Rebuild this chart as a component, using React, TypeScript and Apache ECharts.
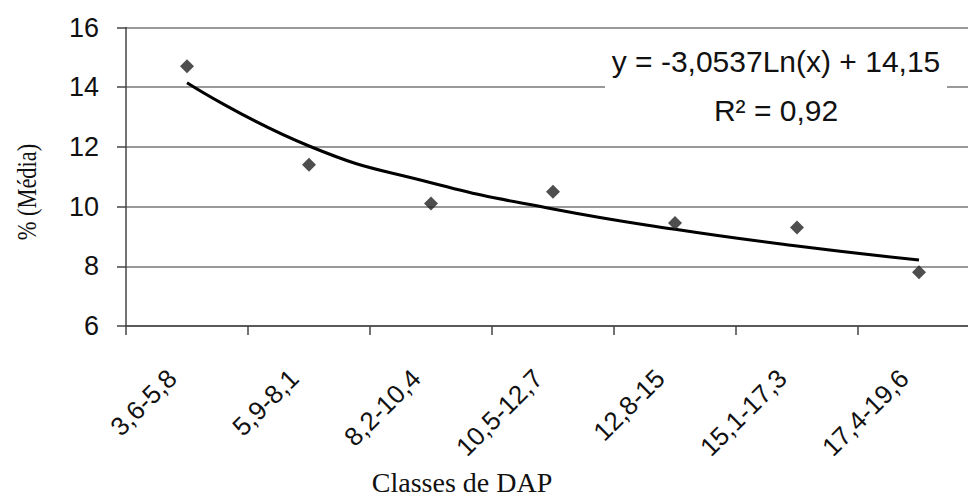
import React, { useEffect, useRef } from "react";
import * as echarts from "echarts";

const categories = ["3,6-5,8", "5,9-8,1", "8,2-10,4", "10,5-12,7", "12,8-15", "15,1-17,3", "17,4-19,6"];
const observed = [14.7, 11.4, 10.1, 10.5, 9.45, 9.3, 7.8];
const trend = [14.15, 12.03, 10.8, 9.92, 9.24, 8.68, 8.21];
const yTicks = { min: 6, max: 16, interval: 2 };
const equationText = "y = -3,0537Ln(x) + 14,15";
const r2Text = "R² = 0,92";
const xTitle = "Classes de DAP";
const yTitle = "% (Média)";

const SANS = "'Liberation Sans', Arial, sans-serif";
const SERIF = "'Liberation Serif', 'Times New Roman', serif";

export default function App() {
  const ref = useRef<HTMLDivElement>(null);
  useEffect(() => {
    document.body.style.margin = "0";
    const chart = echarts.init(ref.current!, null, { renderer: "svg" });
    chart.setOption({
      animation: false,
      backgroundColor: "#ffffff",
      grid: { left: 126, width: 854, top: 27.5, height: 298.5, containLabel: false, outerBoundsMode: "none" },
      xAxis: {
        type: "category",
        data: categories,
        boundaryGap: true,
        axisLine: { show: true, lineStyle: { color: "#444", width: 1.5 } },
        axisTick: { show: true, length: 9, inside: false, alignWithLabel: false, lineStyle: { color: "#444", width: 1.5 } },
        axisLabel: {
          rotate: 45,
          interval: 0,
          margin: 33,
          padding: [0, 21, 0, 0],
          fontSize: 26,
          color: "#111",
          fontFamily: SANS,
        },
        splitLine: { show: false },
      },
      yAxis: {
        type: "value",
        min: yTicks.min,
        max: yTicks.max,
        interval: yTicks.interval,
        axisLine: { show: true, lineStyle: { color: "#444", width: 1.5 } },
        axisTick: { show: true, length: 9, lineStyle: { color: "#444", width: 1.5 } },
        axisLabel: { margin: 27, fontSize: 27, color: "#111", fontFamily: SANS },
        splitLine: { show: true, lineStyle: { color: "#777", width: 1.5 } },
      },
      series: [
        {
          type: "line",
          data: trend,
          smooth: true,
          symbol: "none",
          lineStyle: { color: "#000", width: 3 },
          z: 3,
        },
        {
          type: "scatter",
          data: observed,
          symbol: "diamond",
          symbolSize: 14,
          itemStyle: { color: "#222" },
          z: 4,
        },
      ],
      graphic: [
        {
          type: "rect",
          shape: { x: 605, y: 31, width: 342, height: 112 },
          style: { fill: "#ffffff" },
          z: 10,
        },
        {
          type: "text",
          x: 776,
          y: 61,
          z: 11,
          style: { text: equationText, fontSize: 30, fontFamily: SANS, fill: "#111", align: "center", verticalAlign: "middle" },
        },
        {
          type: "text",
          x: 776,
          y: 110,
          z: 11,
          style: { text: r2Text, fontSize: 30, fontFamily: SANS, fill: "#111", align: "center", verticalAlign: "middle" },
        },
        {
          type: "text",
          x: 462,
          y: 482,
          z: 11,
          style: { text: xTitle, fontSize: 28, fontFamily: SERIF, fill: "#111", align: "center", verticalAlign: "middle" },
        },
        {
          type: "text",
          x: 26,
          y: 192,
          rotation: Math.PI / 2,
          scaleX: 0.8,
          z: 11,
          style: { text: yTitle, fontSize: 28, fontFamily: SERIF, fill: "#111", align: "center", verticalAlign: "middle" },
        },
      ],
    });
    return () => chart.dispose();
  }, []);
  return <div ref={ref} style={{ width: 968, height: 498 }} />;
}
